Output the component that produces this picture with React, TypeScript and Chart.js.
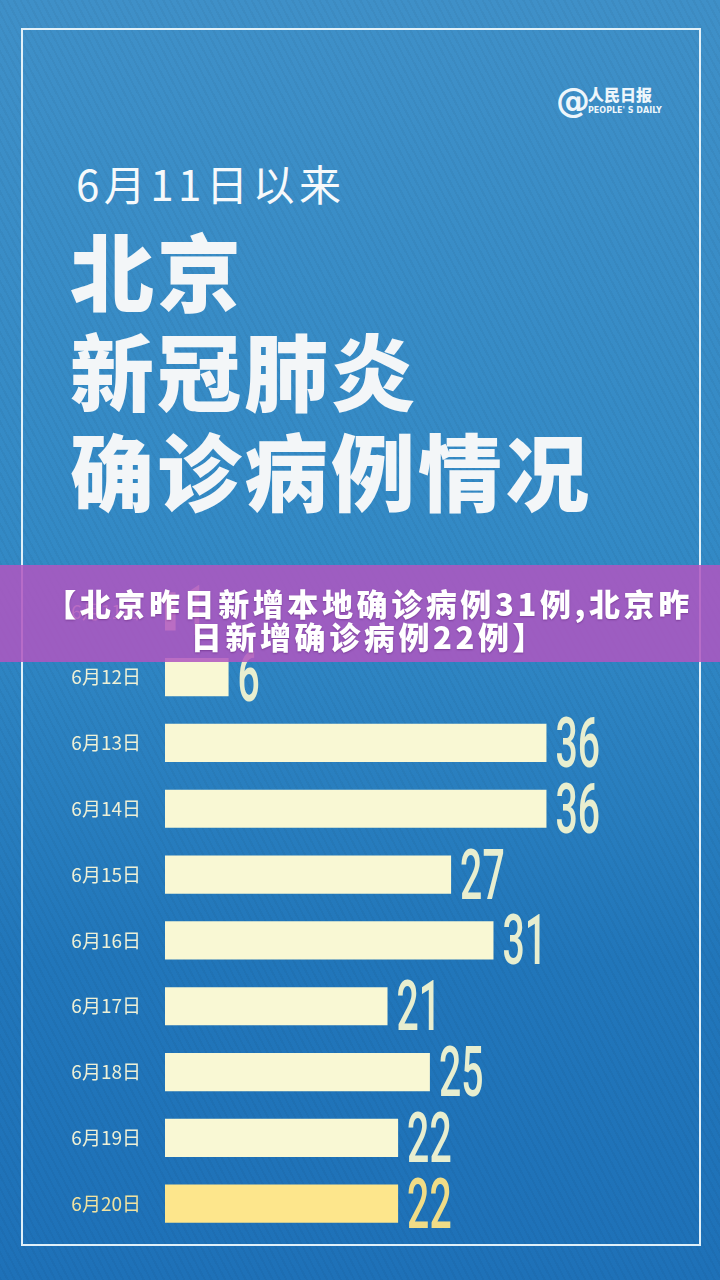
import React, { useEffect, useRef } from "react";
import { Chart, registerables } from "chart.js";

Chart.register(...registerables);

const dates = ["6月11日", "6月12日", "6月13日", "6月14日", "6月15日", "6月16日", "6月17日", "6月18日", "6月19日", "6月20日"];
const cases = [1, 6, 36, 36, 27, 31, 21, 25, 22, 22];
const titleSmall = "6月11日以来";
const titleLines = ["北京", "新冠肺炎", "确诊病例情况"];
const bannerLines = ["【北京昨日新增本地确诊病例31例,北京昨", "日新增确诊病例22例】"];

const CREAM = "#f9f8d4";
const YELLOW = "#fde68c";
const LABEL_CREAM = "#e8eecf";
const LABEL_YELLOW = "#f0dc86";
const CJK = "'Noto Sans CJK SC', 'Noto Sans', sans-serif";

const valueLabelPlugin = {
  id: "valueLabels",
  afterDatasetsDraw(chart: any) {
    const ctx = chart.ctx;
    const meta = chart.getDatasetMeta(0);
    const n = meta.data.length;
    meta.data.forEach((bar: any, i: number) => {
      const text = String(chart.data.datasets[0].data[i]);
      ctx.save();
      ctx.fillStyle = i === n - 1 ? LABEL_YELLOW : LABEL_CREAM;
      ctx.font = "500 70px Roboto, 'DejaVu Sans', sans-serif";
      ctx.textAlign = "left";
      ctx.textBaseline = "alphabetic";
      ctx.translate(bar.x + 9, bar.y + 24);
      ctx.scale(0.56, 1);
      ctx.fillText(text, 0, 0);
      ctx.restore();
    });
  },
};

function BarChart() {
  const ref = useRef<HTMLCanvasElement | null>(null);
  useEffect(() => {
    if (!ref.current) return;
    const n = cases.length;
    const chart = new Chart(ref.current, {
      type: "bar",
      data: {
        labels: dates,
        datasets: [
          {
            data: cases,
            backgroundColor: cases.map((_, i) => (i === n - 1 ? YELLOW : CREAM)),
            borderWidth: 0,
            barPercentage: 0.58,
            categoryPercentage: 1,
          },
        ],
      },
      options: {
        indexAxis: "y",
        responsive: false,
        animation: false,
        layout: { padding: { left: 0, right: 4, top: 0, bottom: 0 } },
        plugins: { legend: { display: false }, tooltip: { enabled: false } },
        scales: {
          x: { display: false, min: 0, max: 52 },
          y: {
            afterFit: (scale: any) => {
              scale.width = 165;
            },
            grid: { display: false, drawTicks: false },
            border: { display: false },
            ticks: {
              padding: 24,
              font: { family: CJK, size: 19 },
              color: (c: any) => (c.index === n - 1 ? "#f0e2a0" : "#eef0d6"),
            },
          },
        },
      },
      plugins: [valueLabelPlugin],
    } as any);
    return () => chart.destroy();
  }, []);
  return (
    <canvas
      ref={ref}
      width={720}
      height={729}
      style={{ position: "absolute", left: 0, top: 543, width: 720, height: 729 }}
    />
  );
}

export default function App() {
  return (
    <div
      style={{
        position: "fixed",
        left: 0,
        top: 0,
        width: 720,
        height: 1280,
        overflow: "hidden",
        background:
          "repeating-linear-gradient(62deg, rgba(0,0,0,0.035) 0px, rgba(0,0,0,0.035) 2px, rgba(255,255,255,0) 2px, rgba(255,255,255,0) 6px), linear-gradient(180deg, #3f90c8 0%, #3289c5 45%, #2176ba 75%, #1e71b8 100%)",
        fontFamily: CJK,
      }}
    >
      <div
        style={{
          position: "absolute",
          left: 21,
          top: 28,
          width: 680,
          height: 1218,
          boxSizing: "border-box",
          border: "2px solid rgba(235,247,252,0.95)",
        }}
      />
      {/* logo */}
      <div style={{ position: "absolute", left: 556, top: 80, width: 120, height: 42, color: "#eef6fb" }}>
        <div style={{ position: "absolute", left: 0, top: 0, fontSize: 34, fontWeight: 700, lineHeight: "40px", fontFamily: "'DejaVu Sans', sans-serif" }}>@</div>
        <div style={{ position: "absolute", left: 32, top: 5, fontSize: 16, fontWeight: 900, lineHeight: "18px", letterSpacing: 0 }}>人民日报</div>
        <div style={{ position: "absolute", left: 32, top: 26, fontSize: 8, fontWeight: 700, lineHeight: "10px", fontFamily: "'DejaVu Sans', sans-serif", whiteSpace: "nowrap" }}>PEOPLE' S DAILY</div>
      </div>
      <div
        style={{
          position: "absolute",
          left: 76,
          top: 155,
          fontSize: 42,
          lineHeight: "56px",
          color: "#f6f9fb",
          letterSpacing: 4.5,
          whiteSpace: "nowrap",
        }}
      >
        {titleSmall}
      </div>
      {titleLines.map((t, i) => (
        <div
          key={t}
          style={{
            position: "absolute",
            left: 70,
            top: 217 + i * 100,
            fontSize: 84,
            fontWeight: 900,
            lineHeight: "104px",
            color: "#f3f6f8",
            letterSpacing: 3,
            whiteSpace: "nowrap",
          }}
        >
          {t}
        </div>
      ))}
      <BarChart />
      <div
        style={{
          position: "absolute",
          left: 0,
          top: 565,
          width: 720,
          height: 97,
          background: "rgba(176, 86, 192, 0.86)",
          display: "flex",
          flexDirection: "column",
          justifyContent: "center",
          alignItems: "center",
          paddingTop: 10,
          paddingLeft: 18,
          boxSizing: "border-box",
          color: "#ffffff",
          fontSize: 31,
          fontWeight: 800,
          lineHeight: "33px",
          letterSpacing: 3.6,
          textShadow: "0 1px 2px rgba(60,0,80,0.35)",
          whiteSpace: "nowrap",
        }}
      >
        <div>{bannerLines[0]}</div>
        <div>{bannerLines[1]}</div>
      </div>
    </div>
  );
}
